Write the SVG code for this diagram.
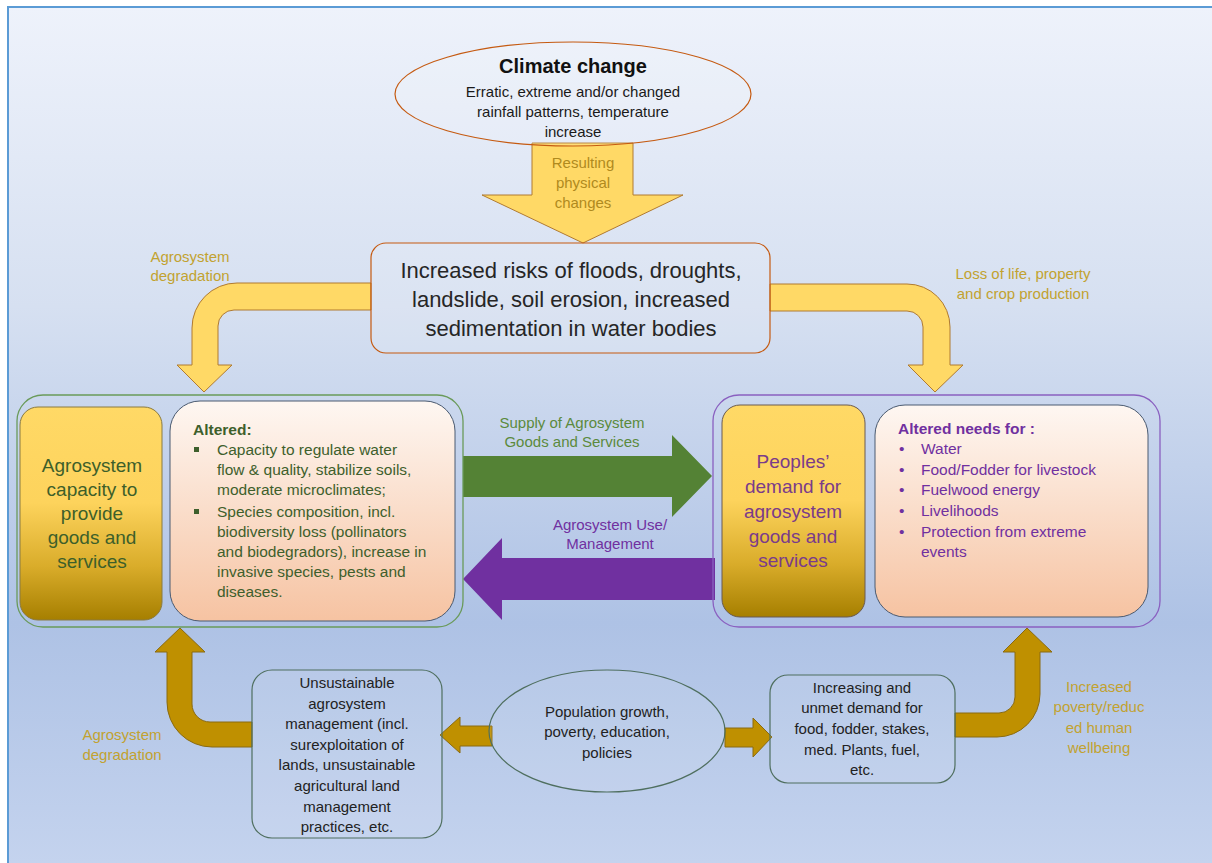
<svg xmlns="http://www.w3.org/2000/svg" width="1212" height="863" viewBox="0 0 1212 863">
<defs>
<linearGradient id="bg" x1="0" y1="0" x2="0" y2="1">
<stop offset="0" stop-color="#eef2fb"/>
<stop offset="0.35" stop-color="#d6e0f1"/>
<stop offset="0.72" stop-color="#aec2e5"/>
<stop offset="1" stop-color="#c4d3ee"/>
</linearGradient>
<linearGradient id="gold" x1="0" y1="0" x2="0" y2="1">
<stop offset="0" stop-color="#ffd966"/>
<stop offset="0.45" stop-color="#fdd35c"/>
<stop offset="0.75" stop-color="#d9ac2a"/>
<stop offset="1" stop-color="#a67f00"/>
</linearGradient>
<linearGradient id="pink" x1="0" y1="0" x2="0" y2="1">
<stop offset="0" stop-color="#fef7f2"/>
<stop offset="1" stop-color="#f6c3a2"/>
</linearGradient>
<style>
text{font-family:"Liberation Sans",Arial,sans-serif;}
.yel{fill:#ffd966;stroke:#b07a30;stroke-width:1;}
.dk{fill:#bf9000;stroke:#8a6a10;stroke-width:1;}
.lbl{font-size:15px;fill:#c2a230;text-anchor:middle;}
.mid{text-anchor:middle;}
.body{font-size:15px;fill:#222;text-anchor:middle;}
.gtx{font-size:15.5px;fill:#3e5f2c;}
.ptx{font-size:15.5px;fill:#7030a0;}
</style>
</defs>
<rect x="0" y="0" width="1212" height="863" fill="#ffffff"/>
<rect x="8" y="7" width="1204" height="856" fill="url(#bg)"/>
<path d="M8,863 L8,7 L1212,7" fill="none" stroke="#5b9bd5" stroke-width="2"/>

<g id="connectors">
<path class="yel" d="M532,143 L633,143 L633,195 L683,195 L583,243 L482,195 L532,195 Z"/>
<path class="yel" d="M371,283 L237,283 A45,45 0 0 0 192,328 L192,365 L177,365 L204,392 L232,365 L218,365 L218,326 A16,16 0 0 1 234,310 L371,310 Z"/>
<path class="yel" d="M770,284 L907,284 A43,43 0 0 1 950,327 L950,365 L963,365 L935,392 L908,365 L923,365 L923,327 A16,16 0 0 0 907,311 L770,311 Z"/>
<path d="M463,456 L672,456 L672,435 L712,476 L672,517 L672,497 L463,497 Z" fill="#548235"/>
<path d="M715,558 L502,558 L502,538 L463,579 L502,620 L502,600 L715,600 Z" fill="#7030a0"/>
<path class="dk" d="M252,722 L210,722 A18,18 0 0 1 192,704 L192,652 L205,652 L180,628 L155,652 L167,652 L167,702 A45,45 0 0 0 212,747 L252,747 Z"/>
<path class="dk" d="M955,713 L999,713 A16,16 0 0 0 1015,697 L1015,652 L1003,652 L1027,628 L1052,652 L1040,652 L1040,694 A43,43 0 0 1 997,737 L955,737 Z"/>
<path class="dk" d="M492,726 L460,726 L460,717 L440,735 L460,753 L460,746 L492,746 Z"/>
<path class="dk" d="M725,728 L753,728 L753,718 L772,737 L753,757 L753,747 L725,747 Z"/>
<text class="mid" font-size="15" fill="#b08a1e"><tspan x="583" y="168">Resulting</tspan><tspan x="583" y="188">physical</tspan><tspan x="583" y="208">changes</tspan></text>
<text class="lbl"><tspan x="190" y="262">Agrosystem</tspan><tspan x="190" y="281">degradation</tspan></text>
<text class="lbl"><tspan x="1023" y="279">Loss of life, property</tspan><tspan x="1023" y="299">and crop production</tspan></text>
<text class="mid" font-size="15" fill="#5b8a3c"><tspan x="572" y="428">Supply of Agrosystem</tspan><tspan x="572" y="447">Goods and Services</tspan></text>
<text class="mid" font-size="15" fill="#7030a0"><tspan x="610" y="530">Agrosystem Use/</tspan><tspan x="610" y="549">Management</tspan></text>
<text class="lbl"><tspan x="122" y="740">Agrosystem</tspan><tspan x="122" y="760">degradation</tspan></text>
<text class="lbl" font-size="15.5"><tspan x="1099" y="692">Increased</tspan><tspan x="1099" y="712">poverty/reduc</tspan><tspan x="1099" y="733">ed human</tspan><tspan x="1099" y="753">wellbeing</tspan></text>
</g>

<g id="climate">
<ellipse cx="573" cy="94" rx="178" ry="52" fill="#ffffff" fill-opacity="0.12" stroke="#c55a11" stroke-width="1.2"/>
<text class="mid" x="573" y="73" font-size="20" font-weight="bold" fill="#111">Climate change</text>
<text class="mid" font-size="15" fill="#1a1a1a"><tspan x="573" y="97">Erratic, extreme and/or changed</tspan><tspan x="573" y="117">rainfall patterns, temperature</tspan><tspan x="573" y="137">increase</tspan></text>
</g>

<g id="risks">
<rect x="371" y="243" width="399" height="110" rx="15" fill="#ffffff" fill-opacity="0.12" stroke="#c55a11" stroke-width="1.2"/>
<text class="mid" font-size="22" fill="#262626"><tspan x="571" y="278">Increased risks of floods, droughts,</tspan><tspan x="571" y="307">landslide, soil erosion, increased</tspan><tspan x="571" y="336">sedimentation in water bodies</tspan></text>
</g>

<g id="supply-side">
<rect x="17" y="395" width="446" height="232" rx="26" fill="none" stroke="#6a9a5a" stroke-width="1.3"/>
<rect x="20" y="407" width="142" height="213" rx="18" fill="url(#gold)" stroke="#8a7a40" stroke-width="1"/>
<text class="mid" font-size="19" fill="#3d5f2a"><tspan x="92" y="472">Agrosystem</tspan><tspan x="92" y="496">capacity to</tspan><tspan x="92" y="520">provide</tspan><tspan x="92" y="544">goods and</tspan><tspan x="92" y="568">services</tspan></text>
<rect x="170" y="401" width="285" height="220" rx="30" fill="url(#pink)" stroke="#4a5a70" stroke-width="1"/>
<text x="193" y="435" font-size="15.5" font-weight="bold" fill="#3e5f2c">Altered:</text>
<rect x="194" y="447" width="5" height="5" fill="#3e5f2c"/>
<rect x="194" y="509" width="5" height="5" fill="#3e5f2c"/>
<text class="gtx"><tspan x="217" y="455">Capacity to regulate water</tspan><tspan x="217" y="475">flow &amp; quality, stabilize soils,</tspan><tspan x="217" y="495">moderate microclimates;</tspan><tspan x="217" y="517">Species composition, incl.</tspan><tspan x="217" y="537">biodiversity loss (pollinators</tspan><tspan x="217" y="557">and biodegradors), increase in</tspan><tspan x="217" y="577">invasive species, pests and</tspan><tspan x="217" y="597">diseases.</tspan></text>
</g>

<g id="demand-side">
<rect x="713" y="395" width="447" height="232" rx="26" fill="none" stroke="#8a60c0" stroke-width="1.3"/>
<rect x="722" y="405" width="143" height="212" rx="18" fill="url(#gold)" stroke="#6a5a50" stroke-width="1"/>
<text class="mid" font-size="19" fill="#7a3b8a"><tspan x="793" y="468">Peoples’</tspan><tspan x="793" y="493">demand for</tspan><tspan x="793" y="518">agrosystem</tspan><tspan x="793" y="543">goods and</tspan><tspan x="793" y="567">services</tspan></text>
<rect x="875" y="405" width="273" height="212" rx="30" fill="url(#pink)" stroke="#4a5a70" stroke-width="1"/>
<text x="898" y="434" font-size="15.5" font-weight="bold" fill="#7030a0">Altered needs for :</text>
<text class="ptx"><tspan x="899" y="454">•</tspan><tspan x="899" y="475">•</tspan><tspan x="899" y="495">•</tspan><tspan x="899" y="516">•</tspan><tspan x="899" y="537">•</tspan></text>
<text class="ptx"><tspan x="921" y="454">Water</tspan><tspan x="921" y="475">Food/Fodder for livestock</tspan><tspan x="921" y="495">Fuelwood energy</tspan><tspan x="921" y="516">Livelihoods</tspan><tspan x="921" y="537">Protection from extreme</tspan><tspan x="921" y="557">events</tspan></text>
</g>

<g id="unsustainable">
<rect x="252" y="670" width="190" height="168" rx="20" fill="#ffffff" fill-opacity="0.08" stroke="#4f6f5f" stroke-width="1.2"/>
<text class="body"><tspan x="347" y="688">Unsustainable</tspan><tspan x="347" y="708.6">agrosystem</tspan><tspan x="347" y="729.2">management (incl.</tspan><tspan x="347" y="749.8">surexploitation of</tspan><tspan x="347" y="770.4">lands, unsustainable</tspan><tspan x="347" y="791">agricultural land</tspan><tspan x="347" y="811.6">management</tspan><tspan x="347" y="832.2">practices, etc.</tspan></text>
</g>

<g id="population">
<ellipse cx="607" cy="731" rx="118" ry="61" fill="#ffffff" fill-opacity="0.08" stroke="#4f6f5f" stroke-width="1.2"/>
<text class="body" fill="#1f2a3a"><tspan x="607" y="717">Population growth,</tspan><tspan x="607" y="737">poverty, education,</tspan><tspan x="607" y="758">policies</tspan></text>
</g>

<g id="increasing-demand">
<rect x="770" y="675" width="185" height="108" rx="18" fill="#ffffff" fill-opacity="0.08" stroke="#4f6f5f" stroke-width="1.2"/>
<text class="body"><tspan x="862" y="693">Increasing and</tspan><tspan x="862" y="713">unmet demand for</tspan><tspan x="862" y="734">food, fodder, stakes,</tspan><tspan x="862" y="755">med. Plants, fuel,</tspan><tspan x="862" y="775">etc.</tspan></text>
</g>
</svg>
